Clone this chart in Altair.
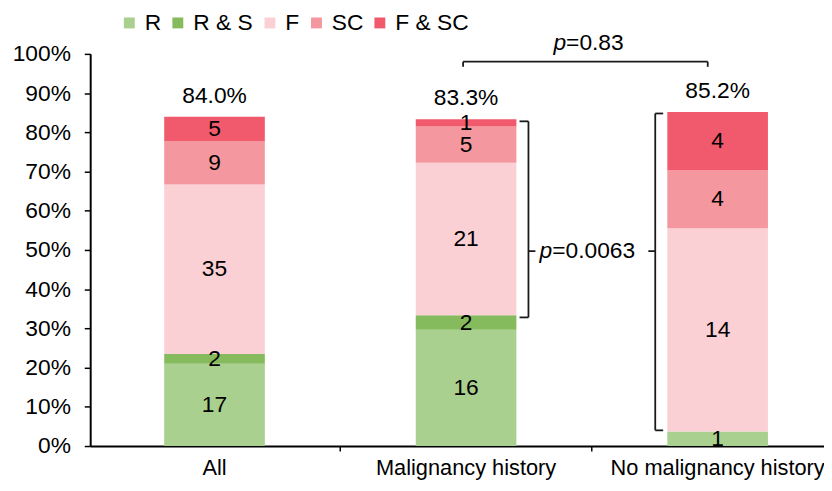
import altair as alt
import pandas as pd

# ---------------- data ----------------
categories = ["All", "Malignancy history", "No malignancy history"]
group_totals = [81, 54, 27]
series = ["R", "R & S", "F", "SC", "F & SC"]
colors = ["#A9D08E", "#85BA5D", "#FAD0D5", "#F4979F", "#F05A6C"]
counts_R = [17, 16, 1]
counts_RS = [2, 2, 0]
counts_F = [35, 21, 14]
counts_SC = [9, 5, 4]
counts_FSC = [5, 1, 4]

# significance annotations (y in fraction of patients)
p_texts = ["=0.83", "=0.0063"]
p_text_y = [1.028, 0.497]
top_bracket_y = 0.980
top_bracket_tip_y = 0.967
malig_bracket_y = [0.328, 0.828]
nomalig_bracket_y = [0.040, 0.848]
bracket_mid_y = 0.497

FONT = "Liberation Sans"
FS = 23
LINE = "#1a1a1a"

# ---------------- tables ----------------
all_counts = [counts_R, counts_RS, counts_F, counts_SC, counts_FSC]
rows, tops = [], []
for ci, cat in enumerate(categories):
    cum = 0.0
    tot = group_totals[ci]
    for si, s in enumerate(series):
        c = all_counts[si][ci]
        f = c / tot
        rows.append({"cat": cat, "series": s, "idx": si, "count": c,
                     "y0": cum, "y1": cum + f, "mid": cum + f / 2})
        cum += f
    tops.append({"cat": cat, "top": cum, "label": f"{cum * 100:.1f}%"})
df = pd.DataFrame(rows)
df_top = pd.DataFrame(tops)

xscale = alt.Scale(domain=categories, paddingInner=0.6, paddingOuter=0.2585, align=0.569)
xaxis = alt.Axis(title=None, labelAngle=0, labelFont=FONT, labelFontSize=22, labelColor="black",
                 domainColor="black", domainWidth=2, tickColor="black", tickSize=5, tickWidth=1.5,
                 bandPosition=1.75, labelPadding=7, labelLimit=0)
yscale = alt.Scale(domain=[0, 1])
yaxis = alt.Axis(title=None, values=[i / 10 for i in range(11)], format=".0%", labelFont=FONT,
                 labelFontSize=FS, labelColor="black", domainColor="black", domainWidth=2,
                 tickColor="black", tickSize=6, tickWidth=1.5, labelPadding=14, grid=False)


def X(field="cat"):
    return alt.X(f"{field}:N", scale=xscale, axis=xaxis, sort=categories)


def Y(field):
    return alt.Y(f"{field}:Q", scale=yscale, axis=yaxis)


bars = alt.Chart(df).mark_bar().encode(
    x=X(),
    y=Y("y0"),
    y2="y1",
    color=alt.Color("series:N", scale=alt.Scale(domain=series, range=colors),
                    legend=alt.Legend(orient="none", legendX=28, legendY=-43, direction="horizontal",
                                      title=None, symbolType="square", symbolSize=121,
                                      symbolStrokeWidth=0, labelFont=FONT, labelFontSize=FS,
                                      labelColor="black", labelOffset=4, columnPadding=5, padding=0)),
)

count_text = alt.Chart(df[df["count"] > 0]).mark_text(
    font=FONT, fontSize=FS, color="black", baseline="middle"
).encode(x=X(), y=Y("mid"), text="count:Q")

top_text = alt.Chart(df_top).mark_text(
    font=FONT, fontSize=FS, color="black", baseline="middle", dy=-21
).encode(x=X(), y=Y("top"), text="label:N")


def vrule(cat, y0, y1, off):
    d = pd.DataFrame({"cat": [cat], "y0": [y0], "y1": [y1]})
    return alt.Chart(d).mark_rule(color=LINE, strokeWidth=1.8, xOffset=off).encode(
        x=X(), y=Y("y0"), y2="y1")


def hrule(cat, cat2, y, off1, off2):
    d = pd.DataFrame({"cat": [cat], "cat2": [cat2], "y": [y]})
    return alt.Chart(d).mark_rule(color=LINE, strokeWidth=1.8, xOffset=off1, x2Offset=off2).encode(
        x=X(), x2="cat2", y=Y("y"))


def ptext(txt, y, dx):
    d = pd.DataFrame({"cat": [categories[1]], "y": [y]})
    p = alt.Chart(d).mark_text(font=FONT, fontSize=FS, fontStyle="italic", color="black",
                               align="right", baseline="middle", dx=dx).encode(
        x=X(), y=Y("y"), text=alt.value("p"))
    rest = alt.Chart(d).mark_text(font=FONT, fontSize=FS, color="black",
                                  align="left", baseline="middle", dx=dx).encode(
        x=X(), y=Y("y"), text=alt.value(txt))
    return p + rest


m, n = categories[1], categories[2]
layers = [
    bars, count_text, top_text,
    # p=0.83 bracket
    hrule(m, n, top_bracket_y, -3, -10),
    vrule(m, top_bracket_tip_y, top_bracket_y, -3),
    vrule(n, top_bracket_tip_y, top_bracket_y, -10),
    # right bracket on malignancy history
    vrule(m, malig_bracket_y[0], malig_bracket_y[1], 63),
    hrule(m, m, malig_bracket_y[0], 54, 63),
    hrule(m, m, malig_bracket_y[1], 54, 63),
    hrule(m, m, bracket_mid_y, 63, 70),
    # left bracket on no malignancy history
    vrule(n, nomalig_bracket_y[0], nomalig_bracket_y[1], -63),
    hrule(n, n, nomalig_bracket_y[0], -63, -55),
    hrule(n, n, nomalig_bracket_y[1], -63, -55),
    hrule(n, n, bracket_mid_y, -70, -63),
    ptext(p_texts[0], p_text_y[0], 101),
    ptext(p_texts[1], p_text_y[1], 87),
]

chart = alt.layer(*layers).properties(
    width=741, height=396,
    autosize=alt.AutoSizeParams(type="none"),
    padding={"left": 83, "top": 44, "right": 0, "bottom": 35},
).configure_view(stroke=None)

chart.save("out.html", embed_options={"renderer": "svg", "actions": False})
